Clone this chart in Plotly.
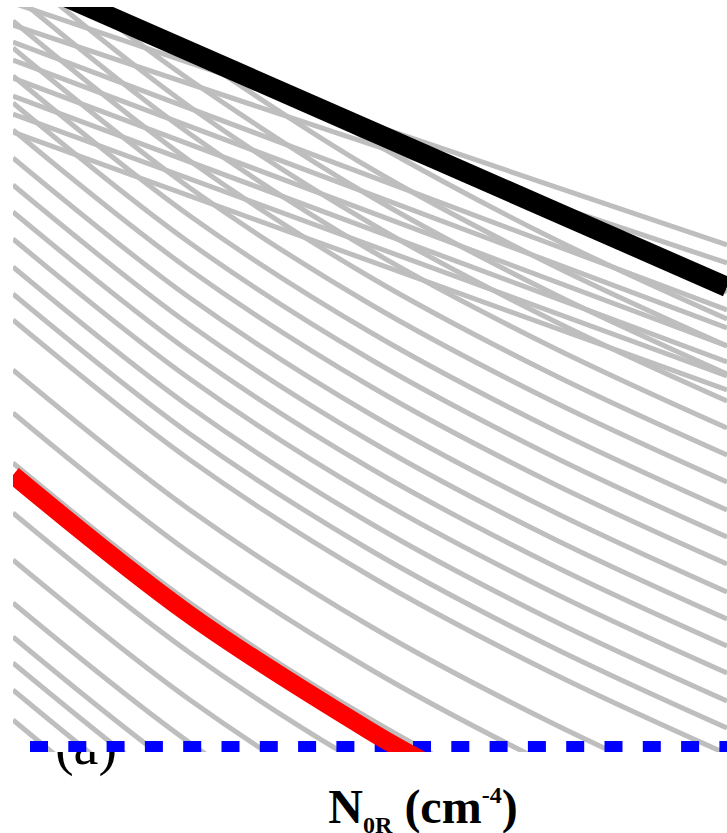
import plotly.graph_objects as go

# ---- data (x: N0R axis units, y: value units) ----
X_FULL = [0, 177, 357, 537, 714]

# family of gray curves spanning the full width
GRAY_A = [
    [31, -109, -225, -321, -403],
    [61, -79, -195, -291, -373],
    [88, -52, -168, -264, -346],
    [114, -26, -142, -238, -320],
    [148, 8, -108, -204, -286],
    [191, 51, -65, -161, -243],
    [238, 98, -18, -114, -196],
    [288, 148, 32, -64, -146],
    [338, 198, 82, -14, -96],
    [381, 241, 125, 29, -53],
    [431, 291, 175, 79, -3],
    [457, 317, 201, 105, 23],
    [484, 344, 228, 132, 50],
    [512, 372, 256, 160, 78],
    [539, 399, 283, 187, 105],
    [566, 426, 310, 214, 132],
    [593, 453, 337, 241, 159],
    [621, 481, 365, 269, 187],
    [648, 508, 392, 296, 214],
    [675, 535, 419, 323, 241],
    [703, 563, 447, 351, 269],
    [730, 590, 474, 378, 296],
    [757, 617, 501, 405, 323],
    [784, 644, 528, 432, 350],
]

# gray curves that start on the black curve
GRAY_A_PART_X = [
    [97, 177, 357, 537, 714],
    [177, 357, 537, 714],
    [307, 357, 537, 714],
    [532, 627, 714],
]
GRAY_A_PART_Y = [
    [730, 671, 555, 459, 377],
    [699, 583, 487, 405],
    [640, 610, 514, 432],
    [543, 498, 459],
]

# flatter gray curves (upper band)
GRAY_B_X = [0, 714]
GRAY_B = [
    [748, 506],
    [726, 488],
    [709, 441],
    [691, 423],
    [673, 405],
    [655, 389],
    [637, 375],
    [619, 361],
]

BLACK_X = [0, 357, 714]
BLACK_Y = [777, 620.5, 464]

RED_X = [0, 177, 357, 397, 537]
RED_Y = [276, 136, 20, -3, -76]

BLUE_X = [17, 714]
BLUE_Y = [4.5, 4.5]

PANEL_LABEL = "(a)"
X_TITLE = 'N<sub><span style="font-size:24px">0R</span></sub> (cm<sup><span style="font-size:24px">-4</span></sup>)'

GRAY = "rgb(190,190,190)"
GW = 5

fig = go.Figure()

for ys in GRAY_A:
    fig.add_trace(go.Scatter(x=X_FULL, y=ys, mode="lines",
                             line=dict(color=GRAY, width=GW, shape="spline"),
                             hoverinfo="skip", showlegend=False))
for xs, ys in zip(GRAY_A_PART_X, GRAY_A_PART_Y):
    fig.add_trace(go.Scatter(x=xs, y=ys, mode="lines",
                             line=dict(color=GRAY, width=GW, shape="spline"),
                             hoverinfo="skip", showlegend=False))
for ys in GRAY_B:
    fig.add_trace(go.Scatter(x=GRAY_B_X, y=ys, mode="lines",
                             line=dict(color=GRAY, width=GW),
                             hoverinfo="skip", showlegend=False))

fig.add_trace(go.Scatter(x=BLACK_X, y=BLACK_Y, mode="lines",
                         line=dict(color="black", width=20, shape="spline"),
                         hoverinfo="skip", showlegend=False))
fig.add_trace(go.Scatter(x=BLUE_X, y=BLUE_Y, mode="lines",
                         line=dict(color="rgb(0,0,255)", width=11, dash="18px,20.3px"),
                         hoverinfo="skip", showlegend=False))
fig.add_trace(go.Scatter(x=RED_X, y=RED_Y, mode="lines",
                         line=dict(color="rgb(255,0,0)", width=18, shape="spline"),
                         hoverinfo="skip", showlegend=False))

# lower strip: panel label (partly hidden under the plot) and axis title
fig.add_trace(go.Scatter(x=[86], y=[55], mode="text", text=[PANEL_LABEL],
                         textposition="top center",
                         textfont=dict(family="Liberation Serif", size=56, color="black"),
                         xaxis="x2", yaxis="y2", hoverinfo="skip", showlegend=False))
fig.add_trace(go.Scatter(x=[423], y=[22], mode="text", text=[X_TITLE],
                         textposition="middle center",
                         textfont=dict(family="Liberation Serif", size=48, color="black",
                                       weight="bold"),
                         xaxis="x2", yaxis="y2", hoverinfo="skip", showlegend=False))

H = 833
W = 727
hidden = dict(showgrid=False, zeroline=False, showticklabels=False, ticks="",
              showline=False, fixedrange=True)
fig.update_layout(
    width=W, height=H,
    margin=dict(l=0, r=0, t=0, b=0),
    paper_bgcolor="white", plot_bgcolor="white",
    xaxis=dict(domain=[13 / W, 1], range=[0, 714], **hidden),
    yaxis=dict(domain=[81 / H, 826 / H], range=[-1, 744], **hidden),
    xaxis2=dict(domain=[0, 1], range=[0, 727], anchor="y2", **hidden),
    yaxis2=dict(domain=[0, 81 / H], range=[0, 81], anchor="x2", **hidden),
    showlegend=False,
)

fig.write_html("out.html")
